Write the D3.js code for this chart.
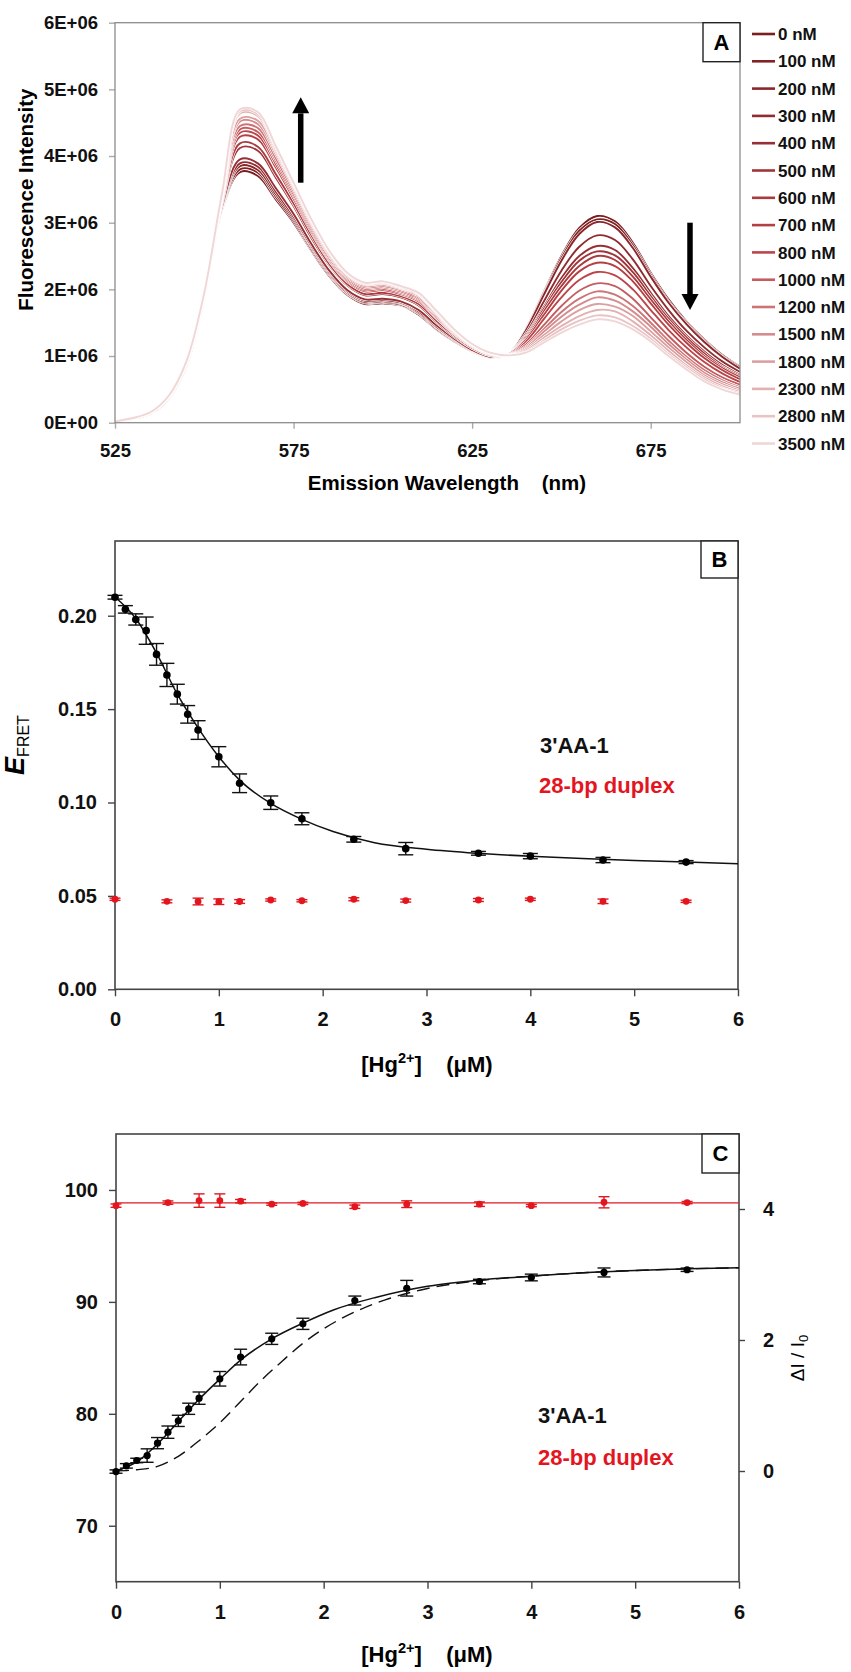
<!DOCTYPE html>
<html>
<head>
<meta charset="utf-8">
<script src="https://cdn.jsdelivr.net/npm/d3@7"></script>
<style>
body { margin: 0; background: #fff; }
svg { display: block; font-family: "Liberation Sans", Arial, Helvetica, sans-serif; }
</style>
</head>
<body>
<svg id="fig" width="851" height="1672"></svg>
<script>
// ---------- panel A : emission spectra (intensity in units of 1E+06) ----------
var wavelengths = [525,530,535,540,545,550,555,560,565,570,575,580,585,590,595,600,605,610,615,620,625,630,635,640,645,650,655,660,665,670,675,680,685,690,695,700];
var concLabels = ["0 nM","100 nM","200 nM","300 nM","400 nM","500 nM","600 nM","700 nM","800 nM","1000 nM","1200 nM","1500 nM","1800 nM","2300 nM","2800 nM","3500 nM"];

var spec0    = [.02,.06,.14,.36,.84,1.85,3.20,3.76,3.70,3.35,3.00,2.58,2.20,1.92,1.78,1.79,1.76,1.62,1.40,1.22,1.07,.98,1.02,1.40,1.95,2.50,2.92,3.10,3.02,2.70,2.25,1.85,1.52,1.25,1.02,.84];
var spec100  = [.02,.06,.14,.36,.84,1.86,3.21,3.80,3.75,3.39,3.03,2.60,2.22,1.94,1.80,1.81,1.77,1.64,1.41,1.23,1.08,.98,1.02,1.39,1.93,2.47,2.88,3.05,2.98,2.66,2.22,1.82,1.50,1.23,1.00,.83];
var spec200  = [.02,.06,.14,.36,.85,1.86,3.23,3.85,3.79,3.43,3.06,2.63,2.24,1.95,1.81,1.82,1.79,1.65,1.43,1.24,1.08,.99,1.02,1.38,1.91,2.43,2.83,3.01,2.93,2.62,2.19,1.80,1.48,1.21,.99,.81];
var spec300  = [.02,.06,.14,.37,.85,1.87,3.24,3.89,3.84,3.47,3.09,2.65,2.26,1.97,1.83,1.84,1.80,1.67,1.44,1.25,1.09,.99,1.02,1.33,1.81,2.28,2.64,2.81,2.74,2.45,2.05,1.69,1.38,1.13,.92,.76];
var spec400  = [.02,.06,.14,.37,.86,1.87,3.25,3.95,3.89,3.52,3.13,2.68,2.28,1.99,1.85,1.86,1.82,1.69,1.46,1.26,1.09,.99,1.02,1.30,1.73,2.17,2.50,2.65,2.59,2.32,1.95,1.60,1.31,1.07,.87,.72];
var spec500  = [.02,.06,.15,.38,.87,1.89,3.30,4.12,4.08,3.68,3.25,2.77,2.36,2.06,1.91,1.93,1.88,1.76,1.51,1.29,1.12,1.01,1.02,1.28,1.70,2.11,2.43,2.57,2.51,2.26,1.90,1.56,1.28,1.04,.84,.70];
var spec600  = [.02,.06,.15,.38,.88,1.90,3.32,4.19,4.14,3.73,3.29,2.81,2.38,2.08,1.93,1.95,1.90,1.78,1.53,1.31,1.12,1.01,1.02,1.26,1.66,2.05,2.35,2.50,2.44,2.19,1.85,1.52,1.24,1.00,.82,.68];
var spec700  = [.02,.07,.15,.38,.89,1.91,3.35,4.29,4.25,3.83,3.36,2.86,2.43,2.12,1.97,1.99,1.93,1.82,1.57,1.33,1.14,1.02,1.02,1.24,1.61,1.98,2.27,2.40,2.35,2.12,1.79,1.47,1.20,.97,.79,.65];
var spec800  = [.02,.07,.15,.39,.89,1.92,3.37,4.35,4.31,3.88,3.40,2.89,2.45,2.14,1.99,2.01,1.95,1.84,1.58,1.34,1.14,1.03,1.01,1.21,1.55,1.88,2.14,2.26,2.21,2.00,1.69,1.39,1.13,.91,.74,.61];
var spec1000 = [.02,.07,.15,.39,.90,1.92,3.38,4.40,4.36,3.93,3.43,2.92,2.47,2.16,2.01,2.03,1.97,1.86,1.60,1.35,1.15,1.03,1.01,1.17,1.46,1.75,1.98,2.09,2.05,1.86,1.58,1.30,1.05,.84,.68,.57];
var spec1200 = [.02,.07,.16,.39,.90,1.93,3.40,4.45,4.42,3.97,3.47,2.95,2.50,2.18,2.03,2.05,1.99,1.88,1.62,1.36,1.16,1.03,1.01,1.14,1.40,1.66,1.86,1.97,1.92,1.75,1.50,1.23,.99,.79,.64,.53];
var spec1500 = [.02,.07,.16,.39,.91,1.94,3.41,4.52,4.48,4.03,3.51,2.98,2.52,2.20,2.05,2.07,2.01,1.90,1.64,1.37,1.16,1.04,1.01,1.12,1.36,1.59,1.77,1.88,1.83,1.67,1.44,1.18,.95,.75,.61,.51];
var spec1800 = [.02,.07,.16,.40,.91,1.94,3.43,4.56,4.53,4.07,3.54,3.00,2.54,2.22,2.07,2.09,2.02,1.92,1.65,1.38,1.17,1.04,1.01,1.10,1.31,1.52,1.69,1.78,1.74,1.60,1.37,1.13,.91,.71,.58,.48];
var spec2300 = [.02,.07,.16,.40,.92,1.94,3.44,4.64,4.60,4.10,3.56,3.02,2.56,2.23,2.08,2.10,2.03,1.93,1.66,1.39,1.17,1.05,1.01,1.08,1.27,1.45,1.60,1.69,1.67,1.52,1.31,1.08,.86,.68,.55,.46];
var spec2800 = [.02,.07,.16,.40,.92,1.95,3.44,4.67,4.63,4.13,3.58,3.04,2.57,2.24,2.09,2.11,2.04,1.94,1.67,1.39,1.18,1.05,1.01,1.06,1.23,1.40,1.53,1.61,1.58,1.45,1.26,1.03,.83,.65,.52,.44];
var spec3500 = [.02,.07,.16,.40,.92,1.95,3.45,4.70,4.66,4.15,3.60,3.05,2.58,2.25,2.10,2.12,2.05,1.95,1.68,1.40,1.18,1.05,1.01,1.05,1.20,1.35,1.47,1.55,1.52,1.40,1.22,1.00,.80,.62,.50,.42];
var spectra = [spec0,spec100,spec200,spec300,spec400,spec500,spec600,spec700,spec800,spec1000,spec1200,spec1500,spec1800,spec2300,spec2800,spec3500];

var xTicksA = [525, 575, 625, 675];
var yTicksA = [0, 1, 2, 3, 4, 5, 6];
// arrows (wavelength, from, to)
var arrowWl = [577, 686];
var arrowFrom = [3.6, 3.0];
var arrowTo = [4.88, 1.69];

// ---------- panel B : E_FRET vs [Hg2+] ----------
var hgAA = [0,0.1,0.2,0.3,0.4,0.5,0.6,0.7,0.8,1.0,1.2,1.5,1.8,2.3,2.8,3.5,4.0,4.7,5.5];
var efretAA = [0.2099,0.2034,0.198,0.192,0.1793,0.1683,0.158,0.1472,0.1388,0.1245,0.1103,0.0999,0.0913,0.0803,0.0753,0.0728,0.0713,0.0692,0.0681];
var efretAAErr = [0.001,0.002,0.003,0.0073,0.0058,0.0062,0.0053,0.0047,0.005,0.0054,0.005,0.0036,0.0032,0.0015,0.0033,0.001,0.0014,0.0014,0.0008];
var hgDuplex = [0,0.5,0.8,1.0,1.2,1.5,1.8,2.3,2.8,3.5,4.0,4.7,5.5];
var efretDuplex = [0.0482,0.0471,0.047,0.0469,0.047,0.0478,0.0474,0.0482,0.0475,0.0478,0.0482,0.0471,0.0471];
var efretDuplexErr = [0.0006,0.0008,0.0018,0.0015,0.001,0.0006,0.0006,0.0008,0.0008,0.0008,0.0006,0.0012,0.0006];
var fitBx = [0,0.2,0.4,0.6,0.8,1.0,1.2,1.5,1.8,2.1,2.5,3.0,3.5,4.0,4.5,5.0,5.5,6.0];
var fitBy = [0.210,0.1985,0.180,0.158,0.140,0.1245,0.112,0.0995,0.091,0.0845,0.0785,0.0750,0.0728,0.0712,0.0700,0.0690,0.0682,0.0672];
var xTicksBC = [0,1,2,3,4,5,6];
var yTicksB = [0, 0.05, 0.10, 0.15, 0.20];

// ---------- panel C : fluorescence vs [Hg2+] ----------
var fluorAA = [74.84,75.35,75.83,76.27,77.38,78.36,79.37,80.45,81.4,83.13,85.07,86.7,88.04,90.12,91.22,91.82,92.18,92.63,92.87];
var fluorAAErr = [0.15,0.2,0.2,0.6,0.5,0.55,0.5,0.5,0.55,0.65,0.7,0.5,0.5,0.4,0.7,0.2,0.3,0.4,0.15];
var fluorDuplex = [98.6,98.87,99.05,99.05,99.0,98.73,98.8,98.5,98.73,98.73,98.6,98.9,98.87];
var fluorDuplexErr = [0.15,0.15,0.6,0.6,0.15,0.1,0.1,0.15,0.3,0.2,0.1,0.5,0.1];
var fitCx = [0,0.2,0.4,0.6,0.8,1.0,1.2,1.5,1.8,2.1,2.5,3.0,3.5,4.0,4.5,5.0,5.5,6.0];
var fitCy = [74.9,75.7,77.3,79.3,81.3,83.1,84.8,86.7,88.1,89.3,90.4,91.4,91.95,92.3,92.6,92.8,92.95,93.05];
var dashCx = [0,0.2,0.4,0.6,0.8,1.0,1.2,1.4,1.6,1.8,2.0,2.3,2.6,3.0,3.5,4.0,4.5,5.0,5.5,6.0];
var dashCy = [74.9,75.0,75.3,76.2,77.6,79.2,81.1,83.0,84.7,86.3,87.6,89.1,90.2,91.2,91.9,92.3,92.6,92.8,92.95,93.05];
var duplexLineX = [0, 6];
var duplexLineY = [98.84, 98.84];
var yTicksC = [70, 80, 90, 100];
var yTicksCR = [0, 2, 4];

// ---------- drawing ----------
var RED = "#e3161f";
var svg = d3.select("#fig");

function styleAxis(g, tickColor, size) {
  g.select(".domain").remove();
  g.selectAll(".tick line").attr("stroke", tickColor).attr("stroke-width", 1.4);
  g.selectAll(".tick text").attr("fill", "#111").attr("font-size", size)
    .attr("font-weight", "bold").attr("font-family", "Liberation Sans, Arial, sans-serif");
}

function labelBox(g, x1, y0, w, h, txt) {
  g.append("rect").attr("x", x1 - w).attr("y", y0).attr("width", w).attr("height", h)
    .attr("fill", "#fff").attr("stroke", "#222").attr("stroke-width", 1.4);
  g.append("text").attr("x", x1 - w / 2).attr("y", y0 + h / 2).attr("dy", "0.36em")
    .attr("text-anchor", "middle").attr("font-size", 22).attr("font-weight", "bold").text(txt);
}

function errorBars(g, xs, ys, es, x, y, color, cap) {
  var idx = d3.range(xs.length);
  g.selectAll(null).data(idx).join("line")
    .attr("x1", function(i){ return x(xs[i]); }).attr("x2", function(i){ return x(xs[i]); })
    .attr("y1", function(i){ return y(ys[i] + es[i]); }).attr("y2", function(i){ return y(ys[i] - es[i]); })
    .attr("stroke", color).attr("stroke-width", 1.4);
  [1, -1].forEach(function(s) {
    g.selectAll(null).data(idx).join("line")
      .attr("x1", function(i){ return x(xs[i]) - cap; }).attr("x2", function(i){ return x(xs[i]) + cap; })
      .attr("y1", function(i){ return y(ys[i] + s * es[i]); }).attr("y2", function(i){ return y(ys[i] + s * es[i]); })
      .attr("stroke", color).attr("stroke-width", 1.4);
  });
}

function hgTitle(g, x, y) {
  var t = g.append("text").attr("x", x).attr("y", y).attr("text-anchor", "middle")
    .attr("font-size", 22).attr("font-weight", "bold").style("white-space", "pre");
  t.append("tspan").text("[Hg");
  t.append("tspan").attr("font-size", 14.5).attr("dy", -9).text("2+");
  t.append("tspan").attr("dy", 9).text("]    (\u03bcM)");
}

// ===== Panel A =====
var A = { l: 115, r: 740, t: 22.7, b: 422.7 };
var xA = d3.scaleLinear().domain([525, 700]).range([A.l, A.r]);
var yA = d3.scaleLinear().domain([0, 6]).range([A.b, A.t]);
var colorA = d3.scaleLinear().domain([0, 4, 8, 11, 15]).range(["#7a1e20", "#973035", "#bd4549", "#d58c8e", "#f0d6d6"]);
var gA = svg.append("g");

svg.append("clipPath").attr("id", "clipA").append("rect")
  .attr("x", A.l).attr("y", A.t).attr("width", A.r - A.l).attr("height", A.b - A.t);

gA.append("g").attr("transform", "translate(0," + A.b + ")")
  .call(d3.axisBottom(xA).tickValues(xTicksA).tickSize(6).tickPadding(15).tickFormat(d3.format("d")))
  .call(styleAxis, "#aaa", 18.5);
gA.append("g").attr("transform", "translate(" + A.l + ",0)")
  .call(d3.axisLeft(yA).tickValues(yTicksA).tickSize(6).tickPadding(11)
    .tickFormat(function(v){ return v === 0 ? "0E+00" : v + "E+06"; }))
  .call(styleAxis, "#aaa", 18.5);

var lineA = d3.line()
  .x(function(d, i){ return xA(wavelengths[i]); })
  .y(function(d){ return yA(d); })
  .curve(d3.curveCatmullRom);
var gLines = gA.append("g").attr("clip-path", "url(#clipA)");
spectra.forEach(function(s, k) {
  gLines.append("path").attr("d", lineA(s)).attr("fill", "none").attr("stroke", "#fff").attr("stroke-width", 3.2);
  gLines.append("path").attr("d", lineA(s)).attr("fill", "none").attr("stroke", colorA(k)).attr("stroke-width", 1.9);
});

gA.append("rect").attr("x", A.l).attr("y", A.t).attr("width", A.r - A.l).attr("height", A.b - A.t)
  .attr("fill", "none").attr("stroke", "#8c8c8c").attr("stroke-width", 1.3);

// arrows
arrowWl.forEach(function(w, i) {
  var x = xA(w), y0 = yA(arrowFrom[i]), y1 = yA(arrowTo[i]);
  var dir = y1 < y0 ? 1 : -1, head = 16;
  gA.append("line").attr("x1", x).attr("x2", x).attr("y1", y0).attr("y2", y1 + dir * head)
    .attr("stroke", "#000").attr("stroke-width", 5.5);
  gA.append("path").attr("fill", "#000")
    .attr("d", "M" + x + "," + y1 + "L" + (x - 8.5) + "," + (y1 + dir * head) + "L" + (x + 8.5) + "," + (y1 + dir * head) + "Z");
});

labelBox(gA, A.r, A.t, 37, 39, "A");

gA.append("text").attr("transform", "translate(26," + ((A.t + A.b) / 2 - 23) + ") rotate(-90)")
  .attr("text-anchor", "middle").attr("dy", "0.36em").attr("font-size", 20.5).attr("font-weight", "bold")
  .text("Fluorescence Intensity");
gA.append("text").attr("x", 447).attr("y", 490).attr("text-anchor", "middle")
  .attr("font-size", 20.5).attr("font-weight", "bold").style("white-space", "pre")
  .text("Emission Wavelength    (nm)");

// legend
var leg = gA.append("g").selectAll("g").data(concLabels).join("g")
  .attr("transform", function(d, i){ return "translate(752," + (34 + i * 27.3) + ")"; });
leg.append("line").attr("x1", 0).attr("x2", 23).attr("stroke", function(d, i){ return colorA(i); }).attr("stroke-width", 2.6);
leg.append("text").attr("x", 26).attr("dy", "0.36em").attr("font-size", 17).attr("font-weight", "bold")
  .attr("fill", "#111").text(function(d){ return d; });

// ===== Panel B =====
var B = { l: 115, r: 738, t: 541, b: 989.3 };
var xB = d3.scaleLinear().domain([0, 6]).range([B.l, B.r]);
var yB = d3.scaleLinear().domain([0, 0.24]).range([B.b, B.t]);
var gB = svg.append("g");

gB.append("g").attr("transform", "translate(0," + B.b + ")")
  .call(d3.axisBottom(xB).tickValues(xTicksBC).tickSize(7).tickPadding(16).tickFormat(d3.format("d")))
  .call(styleAxis, "#444", 20);
gB.append("g").attr("transform", "translate(" + B.l + ",0)")
  .call(d3.axisLeft(yB).tickValues(yTicksB).tickSize(7).tickPadding(11).tickFormat(d3.format(".2f")))
  .call(styleAxis, "#444", 20);
gB.append("rect").attr("x", B.l).attr("y", B.t).attr("width", B.r - B.l).attr("height", B.b - B.t)
  .attr("fill", "none").attr("stroke", "#444").attr("stroke-width", 1.6);

gB.append("path").datum(fitBx)
  .attr("d", d3.line().x(function(d){ return xB(d); }).y(function(d, i){ return yB(fitBy[i]); }).curve(d3.curveMonotoneX))
  .attr("fill", "none").attr("stroke", "#111").attr("stroke-width", 1.5);

errorBars(gB, hgAA, efretAA, efretAAErr, xB, yB, "#111", 7.5);
gB.selectAll(null).data(hgAA).join("circle")
  .attr("cx", function(d){ return xB(d); }).attr("cy", function(d, i){ return yB(efretAA[i]); })
  .attr("r", 3.8).attr("fill", "#000");
errorBars(gB, hgDuplex, efretDuplex, efretDuplexErr, xB, yB, RED, 5.5);
gB.selectAll(null).data(hgDuplex).join("circle")
  .attr("cx", function(d){ return xB(d); }).attr("cy", function(d, i){ return yB(efretDuplex[i]); })
  .attr("r", 3.4).attr("fill", RED);

labelBox(gB, B.r, B.t, 37, 37, "B");

gB.append("text").attr("x", 540).attr("y", 753).attr("font-size", 22).attr("font-weight", "bold").attr("fill", "#111").text("3'AA-1");
gB.append("text").attr("x", 539).attr("y", 793).attr("font-size", 22).attr("font-weight", "bold").attr("fill", RED).text("28-bp duplex");

var eT = gB.append("text").attr("transform", "translate(24,745) rotate(-90)").attr("text-anchor", "middle");
eT.append("tspan").attr("font-size", 27).attr("font-weight", "bold").attr("font-style", "italic").text("E");
eT.append("tspan").attr("font-size", 16).attr("dy", 5).text("FRET");

hgTitle(gB, 427, 1072);

// ===== Panel C =====
var C = { l: 116, r: 739, t: 1134, b: 1581.7 };
var xC = d3.scaleLinear().domain([0, 6]).range([C.l, C.r]);
var yC = d3.scaleLinear().domain([65, 105]).range([C.b, C.t]);
var yCR = d3.scaleLinear().domain([-1.69, 5.145]).range([C.b, C.t]);
var gC = svg.append("g");

gC.append("g").attr("transform", "translate(0," + C.b + ")")
  .call(d3.axisBottom(xC).tickValues(xTicksBC).tickSize(7).tickPadding(16).tickFormat(d3.format("d")))
  .call(styleAxis, "#444", 20);
gC.append("g").attr("transform", "translate(" + C.l + ",0)")
  .call(d3.axisLeft(yC).tickValues(yTicksC).tickSize(7).tickPadding(11).tickFormat(d3.format("d")))
  .call(styleAxis, "#444", 20);
gC.append("g").attr("transform", "translate(" + C.r + ",0)")
  .call(d3.axisRight(yCR).tickValues(yTicksCR).tickSize(6).tickPadding(18).tickFormat(d3.format("d")))
  .call(styleAxis, "#444", 20);
gC.append("rect").attr("x", C.l).attr("y", C.t).attr("width", C.r - C.l).attr("height", C.b - C.t)
  .attr("fill", "none").attr("stroke", "#444").attr("stroke-width", 1.6);

gC.append("path").datum(duplexLineX)
  .attr("d", d3.line().x(function(d){ return xC(d); }).y(function(d, i){ return yC(duplexLineY[i]); }))
  .attr("stroke", RED).attr("stroke-width", 1.3).attr("fill", "none");
gC.append("path").datum(dashCx)
  .attr("d", d3.line().x(function(d){ return xC(d); }).y(function(d, i){ return yC(dashCy[i]); }).curve(d3.curveMonotoneX))
  .attr("fill", "none").attr("stroke", "#111").attr("stroke-width", 1.4).attr("stroke-dasharray", "13,7");
gC.append("path").datum(fitCx)
  .attr("d", d3.line().x(function(d){ return xC(d); }).y(function(d, i){ return yC(fitCy[i]); }).curve(d3.curveMonotoneX))
  .attr("fill", "none").attr("stroke", "#111").attr("stroke-width", 1.5);

errorBars(gC, hgAA, fluorAA, fluorAAErr, xC, yC, "#111", 6.5);
gC.selectAll(null).data(hgAA).join("circle")
  .attr("cx", function(d){ return xC(d); }).attr("cy", function(d, i){ return yC(fluorAA[i]); })
  .attr("r", 3.6).attr("fill", "#000");
errorBars(gC, hgDuplex, fluorDuplex, fluorDuplexErr, xC, yC, RED, 5.5);
gC.selectAll(null).data(hgDuplex).join("circle")
  .attr("cx", function(d){ return xC(d); }).attr("cy", function(d, i){ return yC(fluorDuplex[i]); })
  .attr("r", 3.4).attr("fill", RED);

labelBox(gC, C.r, C.t, 37, 39, "C");

gC.append("text").attr("x", 538).attr("y", 1423).attr("font-size", 22).attr("font-weight", "bold").attr("fill", "#111").text("3'AA-1");
gC.append("text").attr("x", 538).attr("y", 1465).attr("font-size", 22).attr("font-weight", "bold").attr("fill", RED).text("28-bp duplex");

var dT = gC.append("text").attr("transform", "translate(797,1358) rotate(-90)").attr("text-anchor", "middle")
  .attr("font-size", 19).style("white-space", "pre");
dT.append("tspan").attr("dy", "0.36em").text("\u0394I / I");
dT.append("tspan").attr("font-size", 13).attr("dy", 4).text("0");

hgTitle(gC, 427, 1662);
</script>
</body>
</html>
